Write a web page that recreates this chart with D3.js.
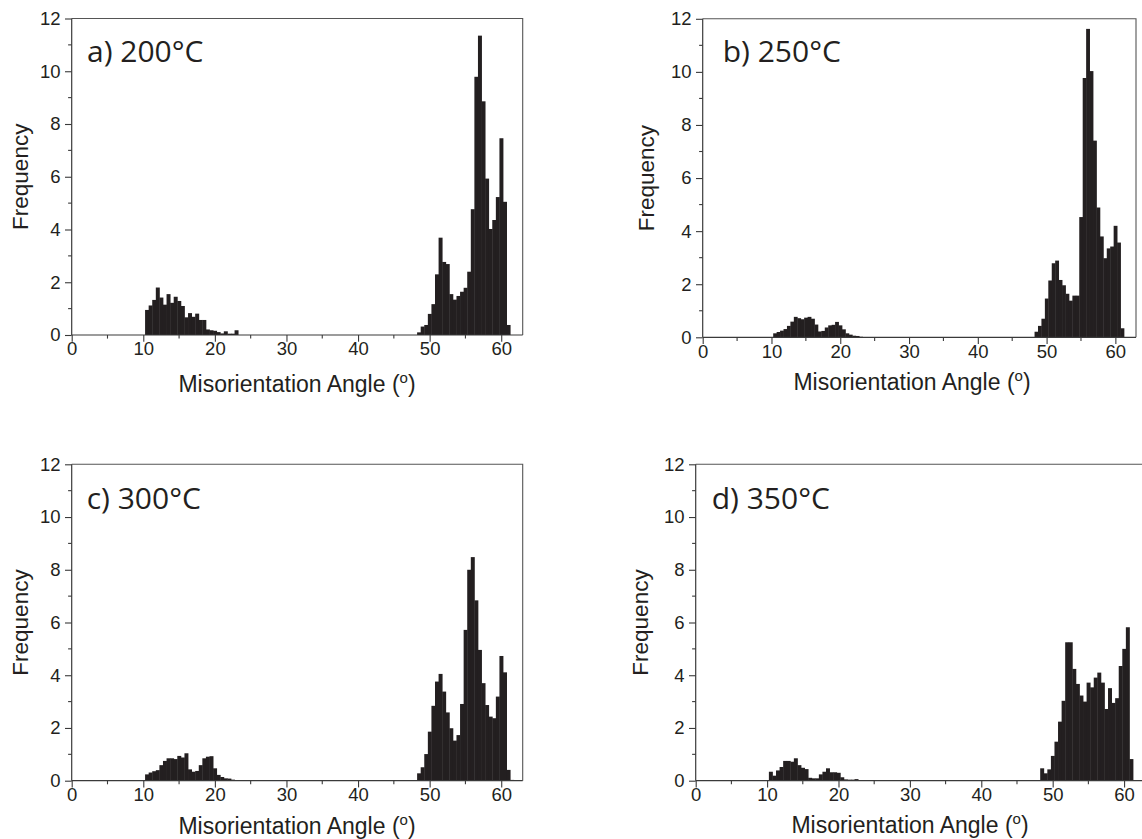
<!DOCTYPE html>
<html><head><meta charset="utf-8">
<script src="https://cdn.jsdelivr.net/npm/d3@7"></script>
<style>body{margin:0;background:#fff;} svg{display:block}</style>
</head><body>
<svg id="chart" width="1142" height="839"></svg>
<script>
// ---- data ----
const lowBins = [10.5,11.0,11.5,12.0,12.5,13.0,13.5,14.0,14.5,15.0,15.5,16.0,16.5,17.0,17.5,18.0,18.5,19.0,19.5,20.0,20.5,21.0,21.5,22.0,22.5,23.0];
const highBins = [48.5,49.0,49.5,50.0,50.5,51.0,51.5,52.0,52.5,53.0,53.5,54.0,54.5,55.0,55.5,56.0,56.5,57.0,57.5,58.0,58.5,59.0,59.5,60.0,60.5,61.0,61.5];
const xTickValues = [0,10,20,30,40,50,60];
const xMinorTicks = [5,15,25,35,45,55];
const yTickValues = [0,2,4,6,8,10,12];
const yMinorTicks = [1,3,5,7,9,11];
const panelTitles = ["a) 200°C","b) 250°C","c) 300°C","d) 350°C"];

const lowA  = [0.95,1.12,1.33,1.80,1.42,1.15,1.55,1.22,1.45,1.29,1.10,0.67,0.83,0.69,0.81,0.57,0.57,0.21,0.18,0.16,0.11,0.06,0.14,0.05,0.05,0.18];
const highA = [0.10,0.32,0.38,0.80,1.17,2.30,3.69,2.77,2.69,1.55,1.34,1.48,1.64,1.79,2.40,4.77,9.79,11.35,8.86,5.93,4.02,4.36,5.23,7.46,5.05,0.38,0];

const lowB  = [0.15,0.20,0.25,0.31,0.43,0.59,0.77,0.72,0.68,0.74,0.77,0.70,0.48,0.22,0.24,0.37,0.45,0.47,0.58,0.45,0.30,0.15,0.10,0.06,0.05,0.02];
const highB = [0.21,0.43,0.70,1.46,2.14,2.79,2.89,2.16,1.96,1.64,1.38,1.57,1.57,4.53,9.77,11.62,10.03,7.41,4.89,3.80,2.98,3.35,3.42,4.20,3.57,0.34,0];

const lowC  = [0.24,0.31,0.36,0.40,0.59,0.75,0.85,0.85,0.82,0.94,0.88,1.04,0.43,0.34,0.37,0.59,0.85,0.91,0.93,0.47,0.22,0.14,0.09,0.08,0.04,0.02];
const highC = [0.28,0.51,1.01,1.86,2.84,3.76,4.05,3.38,2.59,1.99,1.52,1.73,2.91,5.72,8.00,8.48,6.84,4.96,3.70,2.87,2.43,2.37,3.19,4.73,4.11,0.41,0.03];

const lowD  = [0.34,0.19,0.39,0.52,0.75,0.75,0.72,0.85,0.59,0.49,0.44,0.11,0.09,0.09,0.24,0.34,0.47,0.32,0.32,0.30,0.13,0.05,0.04,0.04,0.06,0.01];
const highD = [0.47,0.28,0.43,0.94,1.48,2.24,3.03,5.25,5.25,4.24,3.67,3.23,3.00,3.72,3.54,3.91,4.10,3.72,2.72,3.51,2.95,3.13,4.35,5.00,5.82,0.82,0];

const xLabelMain = "Misorientation Angle (";
const xLabelSup = "o";
const yLabel = "Frequency";

// ---- layout ----
const layout = [
  {left:71.7, right:522.7, top:18.5, bottom:335.0, titleX:87, titleY:62, ylabX:27.5, xlabX:297, xlabY:391.5},
  {left:702.7, right:1136.0, top:18.8, bottom:337.3, titleX:722.7, titleY:62, ylabX:653.5, xlabX:912, xlabY:390},
  {left:71.7, right:522.7, top:464.3, bottom:780.7, titleX:86.7, titleY:508.5, ylabX:27.5, xlabX:297, xlabY:833.5},
  {left:695.7, right:1145.5, top:464.3, bottom:780.7, titleX:711.7, titleY:508.5, ylabX:647.5, xlabX:910, xlabY:832.5}
];
const lows = [lowA, lowB, lowC, lowD];
const highs = [highA, highB, highC, highD];

const svg = d3.select("#chart");
const barColor = "#231f20";
const axisColor = "#3a3a3a";
const tickFont = "'Liberation Sans', Arial, sans-serif";

layout.forEach((L, i) => {
  const g = svg.append("g");
  const x = d3.scaleLinear().domain([0, 63]).range([L.left, L.right]);
  const y = d3.scaleLinear().domain([0, 12]).range([L.bottom, L.top]);

  const data = lowBins.map((c, k) => ({c, v: lows[i][k]}))
    .concat(highBins.map((c, k) => ({c, v: highs[i][k]})))
    .filter(d => d.v > 0);

  g.selectAll("rect.bar").data(data).join("rect")
    .attr("class", "bar")
    .attr("x", d => x(d.c - 0.25))
    .attr("width", d => x(d.c + 0.25) - x(d.c - 0.25) + 0.4)
    .attr("y", d => y(d.v))
    .attr("height", d => y(0) - y(d.v))
    .attr("fill", barColor);

  // frame (top & right)
  g.append("path")
    .attr("d", `M${L.left},${L.top}H${L.right}V${L.bottom}`)
    .attr("fill", "none").attr("stroke", "#555").attr("stroke-width", 1.1);

  // x axis
  const xAxis = g.append("g").attr("transform", `translate(0,${L.bottom})`)
    .call(d3.axisBottom(x).tickValues(xTickValues).tickSize(6.7).tickPadding(0.5).tickSizeOuter(0));
  xAxis.append("g").selectAll("line").data(xMinorTicks).join("line")
    .attr("x1", d => x(d)).attr("x2", d => x(d)).attr("y1", 0).attr("y2", 3.6);
  xAxis.select(".domain").attr("d", `M${L.left},0H${L.right}`);

  // y axis
  const yAxis = g.append("g").attr("transform", `translate(${L.left},0)`)
    .call(d3.axisLeft(y).tickValues(yTickValues).tickSize(6.7).tickPadding(4.5).tickSizeOuter(0));
  yAxis.append("g").selectAll("line").data(yMinorTicks).join("line")
    .attr("x1", 0).attr("x2", -3.6).attr("y1", d => y(d)).attr("y2", d => y(d));
  yAxis.select(".domain").attr("d", `M0,${L.top}V${L.bottom}`);

  [xAxis, yAxis].forEach(a => {
    a.selectAll("line").attr("stroke", axisColor).attr("stroke-width", 1.1);
    a.select(".domain").attr("stroke", axisColor).attr("stroke-width", 1.2);
    a.selectAll("text").attr("font-family", tickFont).attr("font-size", 18.5).attr("fill", "#231f20");
  });

  // title
  g.append("text").attr("x", L.titleX).attr("y", L.titleY)
    .attr("font-family", "'Open Sans', sans-serif").attr("font-size", 30)
    .attr("fill", "#231f20").text(panelTitles[i]);

  // y label
  g.append("text")
    .attr("transform", `translate(${L.ylabX},${(L.top + L.bottom) / 2}) rotate(-90)`)
    .attr("text-anchor", "middle")
    .attr("font-family", tickFont).attr("font-size", 22.5).attr("fill", "#231f20")
    .text(yLabel);

  // x label
  const xl = g.append("text").attr("x", L.xlabX).attr("y", L.xlabY)
    .attr("text-anchor", "middle")
    .attr("font-family", tickFont).attr("font-size", 23).attr("fill", "#231f20");
  xl.append("tspan").text(xLabelMain);
  xl.append("tspan").attr("font-size", 15).attr("dy", -9).text(xLabelSup);
  xl.append("tspan").attr("dy", 9).text(")");
});
</script>
</body></html>
